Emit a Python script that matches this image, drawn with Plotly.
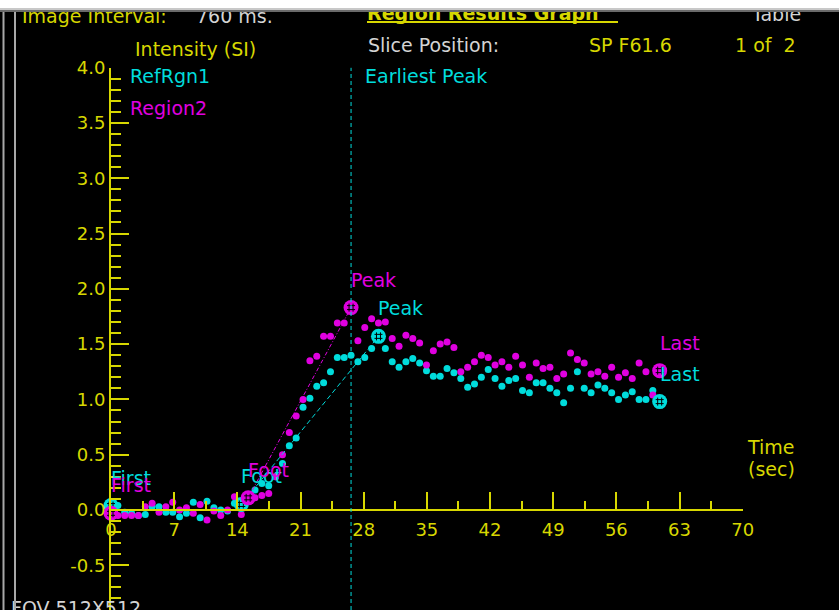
import plotly.graph_objects as go

W, H = 839, 610

YELLOW = "#d7d700"
CYAN = "#00dcdc"
MAGENTA = "#e000e0"
GREY = "#d4d4d4"
FONT = "DejaVu Sans"

# Sampling interval of the dynamic series (seconds)
interval_s = 0.76

# Signal intensity per frame
ref_rgn1 = [
    0.04, 0.04, -0.02, -0.03, -0.05, -0.04, 0.03, 0.03, -0.02, -0.02,
    -0.06, -0.03, 0.07, -0.07, 0.08, 0.02, 0.00, -0.01, 0.06, 0.05,
    0.14, 0.18, 0.24, 0.22, 0.30, 0.42, 0.58, 0.65, 0.93, 1.01,
    1.12, 1.15, 1.25, 1.38, 1.38, 1.40, 1.34, 1.38, 1.46, 1.57,
    1.46, 1.34, 1.29, 1.34, 1.37, 1.33, 1.26, 1.21, 1.21, 1.28,
    1.24, 1.19, 1.11, 1.14, 1.20, 1.27, 1.19, 1.12, 1.17, 1.19,
    1.08, 1.06, 1.15, 1.15, 1.10, 1.06, 0.97, 1.10, 1.25, 1.10,
    1.06, 1.13, 1.10, 1.06, 1.00, 1.04, 1.07, 1.00, 1.00, 1.08,
    0.98,
]
region2 = [
    -0.03, -0.05, -0.05, -0.05, -0.05, 0.03, 0.06, -0.02, 0.03, 0.07,
    0.00, 0.02, -0.03, 0.05, -0.09, -0.01, -0.05, 0.00, 0.12, -0.04,
    0.11, 0.11, 0.13, 0.15, 0.30, 0.50, 0.70, 0.85, 1.00, 1.35,
    1.39, 1.57, 1.57, 1.69, 1.69, 1.83, 1.53, 1.65, 1.73, 1.69,
    1.70, 1.55, 1.48, 1.58, 1.55, 1.51, 1.31, 1.44, 1.50, 1.52,
    1.47, 1.25, 1.29, 1.34, 1.40, 1.38, 1.31, 1.34, 1.29, 1.39,
    1.31, 1.20, 1.33, 1.28, 1.29, 1.19, 1.23, 1.42, 1.36, 1.33,
    1.23, 1.25, 1.21, 1.29, 1.20, 1.24, 1.19, 1.33, 1.25, 1.04,
    1.26,
]
time_s = [round(i * interval_s, 2) for i in range(len(ref_rgn1))]

# Key frames of each curve
ref_keys = {"First": 0, "Foot": 19, "Peak": 39, "Last": 80}
reg_keys = {"First": 0, "Foot": 20, "Peak": 35, "Last": 80}

series = [
    ("RefRgn1", ref_rgn1, CYAN, "5px,3px", ref_keys),
    ("Region2", region2, MAGENTA, "4px,2px,1px,2px", reg_keys),
]

x_tick_vals = [0, 7, 14, 21, 28, 35, 42, 49, 56, 63, 70]
y_tick_vals = [-0.5, 0.0, 0.5, 1.0, 1.5, 2.0, 2.5, 3.0, 3.5, 4.0]
y_tick_text = ["-0.5", "0.0", "0.5", "1.0", "1.5", "2.0", "2.5", "3.0", "3.5", "4.0"]

# Axis placement on the canvas (pixels)
X0_PX, X70_PX = 111, 742.7
Y_TOP_PX, Y_ZERO_PX = 67.6, 510
px_per_unit = (Y_ZERO_PX - Y_TOP_PX) / 4.0
y_bottom = -(H - Y_ZERO_PX) / px_per_unit

fig = go.Figure()

# Frame-by-frame dots
for name, vals, color, dash, keys in series:
    fig.add_trace(go.Scatter(
        x=time_s, y=vals, mode="markers", name=name,
        marker=dict(symbol="circle", size=7, color=color, line=dict(width=0)),
        cliponaxis=False, hoverinfo="skip",
    ))

# Foot-to-peak upslope lines
for name, vals, color, dash, keys in series:
    f, p = keys["Foot"], keys["Peak"]
    fig.add_trace(go.Scatter(
        x=[time_s[f], time_s[p]], y=[vals[f], vals[p]], mode="lines",
        line=dict(color=color, width=1, dash=dash),
        cliponaxis=False, hoverinfo="skip",
    ))

# Key-frame markers
for name, vals, color, dash, keys in series:
    idx = list(keys.values())
    xs = [time_s[i] for i in idx]
    ys = [vals[i] for i in idx]
    fig.add_trace(go.Scatter(
        x=xs, y=ys, mode="markers",
        marker=dict(symbol="circle", size=15, color=color, line=dict(width=0)),
        cliponaxis=False, hoverinfo="skip",
    ))
    fig.add_trace(go.Scatter(
        x=xs, y=ys, mode="markers",
        marker=dict(symbol="hash-open", size=8, color="black", line=dict(width=1, color="black")),
        cliponaxis=False, hoverinfo="skip",
    ))
    for label, i in keys.items():
        fig.add_annotation(
            x=time_s[i], y=vals[i], xref="x", yref="y", text=label,
            showarrow=False, xanchor="left", yanchor="middle", yshift=28, xshift=-2,
            font=dict(family=FONT, size=19, color=color),
        )

# Header / panel text, placed in canvas pixels
panel_text = [
    ("Image Interval:", 22, 18, YELLOW),
    ("760 ms.", 196, 18, GREY),
    ("<b>Region Results Graph</b>", 367, 15, YELLOW),
    ("Table", 752, 16, GREY),
    ("Intensity (SI)", 135, 51, YELLOW),
    ("Slice Position:", 368, 47, GREY),
    ("SP F61.6", 589, 47, YELLOW),
    ("1 of\u00a0\u00a02", 735, 47, YELLOW),
    ("RefRgn1", 130, 78, CYAN),
    ("Region2", 130, 110, MAGENTA),
    ("Earliest Peak", 365, 78, CYAN),
    ("Time", 748, 449, YELLOW),
    ("(sec)", 748, 471, YELLOW),
    ("FOV 512X512", 11, 610, GREY),
]
fig.add_trace(go.Scatter(
    x=[t[1] for t in panel_text], y=[t[2] for t in panel_text],
    text=[t[0] for t in panel_text], mode="text", textposition="middle right",
    textfont=dict(family=FONT, size=19, color=[t[3] for t in panel_text]),
    xaxis="x2", yaxis="y2", hoverinfo="skip",
))

peak_t = time_s[reg_keys["Peak"]]

shapes = [
    # earliest peak marker line
    dict(type="line", xref="x", yref="y", x0=peak_t, x1=peak_t, y0=y_bottom, y1=4.0,
         line=dict(color=CYAN, width=1, dash="4px,3px"), layer="above"),
    # title underline
    dict(type="line", xref="paper", yref="paper", x0=367 / W, x1=618 / W,
         y0=1 - 22 / H, y1=1 - 22 / H, line=dict(color=YELLOW, width=2)),
    # window chrome
    dict(type="rect", xref="paper", yref="paper", x0=0, x1=1, y0=1 - 8 / H, y1=1,
         fillcolor="white", line=dict(width=0), layer="above"),
    dict(type="rect", xref="paper", yref="paper", x0=0, x1=1, y0=1 - 10 / H, y1=1 - 8 / H,
         fillcolor="#c8c8c8", line=dict(width=0), layer="above"),
    dict(type="rect", xref="paper", yref="paper", x0=0, x1=1, y0=1 - 12 / H, y1=1 - 10 / H,
         fillcolor="#6a6a6a", line=dict(width=0), layer="above"),
    dict(type="line", xref="paper", yref="paper", x0=3.5 / W, x1=3.5 / W, y0=0, y1=1 - 12 / H,
         line=dict(color="#a8a8a8", width=2), layer="above"),
    dict(type="line", xref="paper", yref="paper", x0=15 / W, x1=15 / W, y0=0, y1=1 - 12 / H,
         line=dict(color="#a8a8a8", width=2), layer="above"),
]

fig.update_layout(
    width=W, height=H, autosize=False,
    margin=dict(l=0, r=0, t=0, b=0, pad=0, autoexpand=False),
    paper_bgcolor="black", plot_bgcolor="rgba(0,0,0,0)",
    showlegend=False, shapes=shapes,
    xaxis=dict(
        domain=[X0_PX / W, X70_PX / W], range=[0, 70], automargin=False,
        anchor="free", position=(H - Y_ZERO_PX) / H,
        showline=True, linecolor=YELLOW, linewidth=2,
        tickmode="array", tickvals=x_tick_vals, ticktext=[str(v) for v in x_tick_vals],
        ticks="inside", ticklen=17, tickwidth=2, tickcolor=YELLOW,
        ticklabelstandoff=3,
        minor=dict(ticks="inside", ticklen=8, tickwidth=2, tickcolor=YELLOW,
                   tickmode="linear", tick0=0, dtick=3.5, showgrid=False),
        tickfont=dict(family=FONT, size=18, color=YELLOW),
        showgrid=False, zeroline=False, fixedrange=True,
    ),
    yaxis=dict(
        domain=[0, (H - Y_TOP_PX) / H], range=[y_bottom, 4.0001], automargin=False,
        anchor="x", showline=True, linecolor=YELLOW, linewidth=2,
        tickmode="array", tickvals=y_tick_vals, ticktext=y_tick_text,
        ticks="inside", ticklen=18, tickwidth=2, tickcolor=YELLOW,
        minor=dict(ticks="inside", ticklen=10, tickwidth=2, tickcolor=YELLOW,
                   tickmode="linear", tick0=0, dtick=0.1, showgrid=False),
        tickfont=dict(family=FONT, size=18, color=YELLOW),
        showgrid=False, zeroline=False, fixedrange=True,
    ),
    xaxis2=dict(domain=[0, 1], range=[0, W], anchor="y2", visible=False,
                automargin=False, fixedrange=True),
    yaxis2=dict(domain=[0, 1], range=[H, 0], anchor="x2", visible=False,
                automargin=False, fixedrange=True),
)

fig.write_html("out.html")
